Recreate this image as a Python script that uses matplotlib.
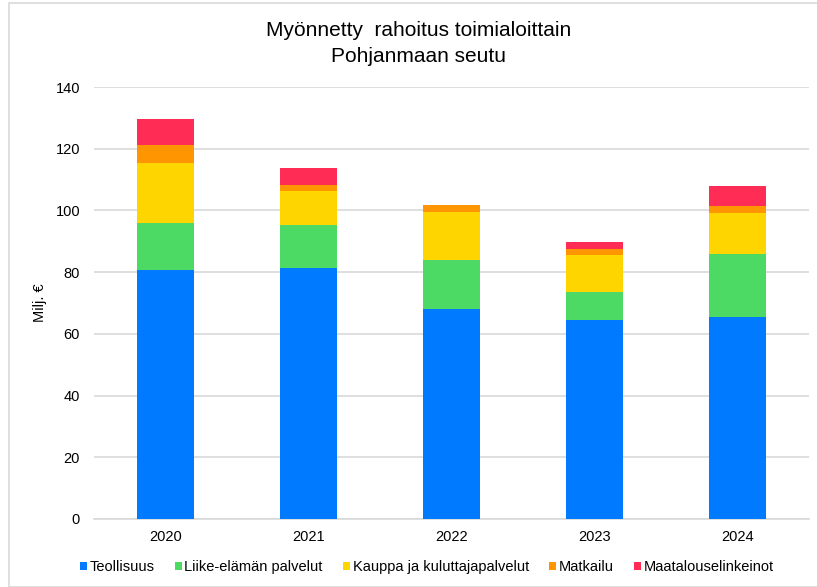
import matplotlib.pyplot as plt
from matplotlib.patches import Rectangle
import numpy as np

plt.rcParams['font.family'] = ['Liberation Sans', 'DejaVu Sans']

years = ['2020', '2021', '2022', '2023', '2024']
teollisuus = [80.6, 81.5, 67.9, 64.4, 65.5]
liike = [15.2, 13.7, 15.9, 9.1, 20.3]
kauppa = [19.7, 11.0, 15.6, 11.9, 13.4]
matkailu = [5.7, 2.2, 2.2, 2.0, 2.3]
maatalous = [8.3, 5.5, 0.3, 2.5, 6.4]

series = [
    ('Teollisuus', teollisuus, '#007bff'),
    ('Liike-elämän palvelut', liike, '#4cd964'),
    ('Kauppa ja kuluttajapalvelut', kauppa, '#ffd500'),
    ('Matkailu', matkailu, '#ff9500'),
    ('Maatalouselinkeinot', maatalous, '#ff2d55'),
]

fig = plt.figure(figsize=(8.17, 5.87), dpi=100)
ax = fig.add_axes([94/817, 1 - 519/587, (809-94)/817, (519-87)/587])

# light frame around the chart
fig.patches.append(Rectangle((9/817, 0), 1, 1 - 3/587, transform=fig.transFigure,
                             fill=False, edgecolor='#d9d9d9', linewidth=1.2))

x = np.arange(len(years))
bottom = np.zeros(len(years))
for name, vals, col in series:
    ax.bar(x, vals, 0.4, bottom=bottom, color=col, label=name, zorder=3)
    bottom += np.array(vals)

ax.set_xlim(-0.5, len(years) - 0.5)
ax.set_ylim(0, 140)
ax.set_yticks(range(0, 141, 20))
ax.set_xticks(x)
ax.set_xticklabels(years)
ax.grid(axis='y', color='#d9d9d9', linewidth=1.2, zorder=0)
for s in ['top', 'right', 'left']:
    ax.spines[s].set_visible(False)
ax.spines['bottom'].set_color('#d9d9d9')
ax.spines['bottom'].set_linewidth(1.2)
ax.tick_params(axis='x', length=0, labelsize=10.5, pad=8)
ax.tick_params(axis='y', length=0, labelsize=10.5, pad=10)

ax.set_ylabel('Milj. €', fontsize=10.5, labelpad=6)

fig.text(0.512, 1 - 30/587, 'Myönnetty  rahoitus toimialoittain', ha='center', va='center', fontsize=15)
fig.text(0.512, 1 - 56/587, 'Pohjanmaan seutu', ha='center', va='center', fontsize=15)

ax.legend(loc='center', bbox_to_anchor=(427/817, 1 - 567/587), bbox_transform=fig.transFigure,
          ncol=5, frameon=False, fontsize=10.5, handlelength=0.45, handleheight=0.45,
          handletextpad=0.2, columnspacing=1.4)

fig.savefig('out.png', dpi=100)
